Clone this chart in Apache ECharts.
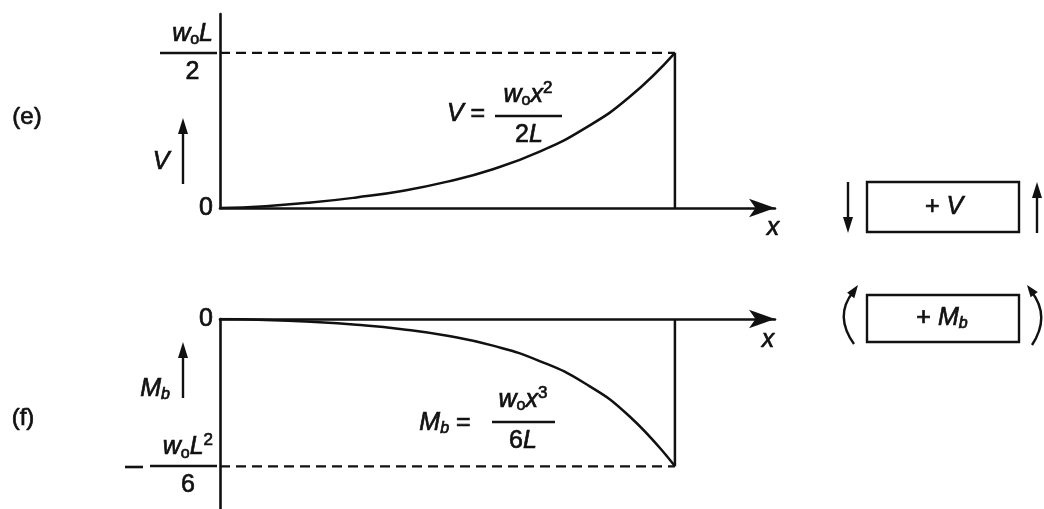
<!DOCTYPE html>
<html><head><meta charset="utf-8">
<script src="https://cdn.jsdelivr.net/npm/echarts@6/dist/echarts.min.js"></script>
<style>html,body{margin:0;padding:0;background:#fff}#c{width:1044px;height:509px}</style>
</head><body><div id="c"></div>
<script>
// ---- data (normalised: x/L, V/(w0L/2), Mb/(w0L^2/6)) ----
const xs      = [0, 0.1, 0.2, 0.3, 0.4, 0.5, 0.6, 0.7, 0.8, 0.9, 1];
const shearV  = [0, 0.012, 0.035, 0.068, 0.11, 0.17, 0.25, 0.36, 0.51, 0.715, 1];
const momentM = [0, -0.006, -0.019, -0.039, -0.069, -0.114, -0.181, -0.282, -0.433, -0.66, -1];
const xEnd = 1;
const shearTicks  = [0, 1];
const momentTicks = [0, -1];
const shearTickLabels  = ['{z|0}', '{i|w}{sub|o}{i|L}\n{u|2}'];
const momentTickLabels = ['{z|0}', '{i|w}{sub|o}{i|L}{sup|2}\n{u|6}'];

const FONT = '"Liberation Sans", Arial, sans-serif';
const INK = '#111111';
const FS = 25;
const SW = 0.7; // slight text stroke to match the heavy print

const richAxis = {
  z:   {fontSize: FS, fontFamily: FONT, color: INK, textBorderColor: INK, textBorderWidth: SW},
  u:   {fontSize: FS, fontFamily: FONT, color: INK, lineHeight: 38, align: 'center', textBorderColor: INK, textBorderWidth: SW},
  i:   {fontSize: FS, fontFamily: FONT, color: INK, fontStyle: 'italic', lineHeight: 38, align: 'center', textBorderColor: INK, textBorderWidth: SW},
  sub: {fontSize: 16, fontFamily: FONT, color: INK, lineHeight: 38, padding: [12, 0, 0, 0], align: 'center', textBorderColor: INK, textBorderWidth: SW},
  sup: {fontSize: 17, fontFamily: FONT, color: INK, lineHeight: 38, padding: [0, 0, 13, 0], align: 'center', textBorderColor: INK, textBorderWidth: SW}
};
const richG = {
  u:   {fontSize: FS, fontFamily: FONT, fill: INK, stroke: INK, lineWidth: SW},
  i:   {fontSize: FS, fontFamily: FONT, fill: INK, stroke: INK, lineWidth: SW, fontStyle: 'italic'},
  sub: {fontSize: 16, fontFamily: FONT, fill: INK, stroke: INK, lineWidth: SW, padding: [12, 0, 0, 0]},
  isub:{fontSize: 16, fontFamily: FONT, fill: INK, stroke: INK, lineWidth: SW, fontStyle: 'italic', padding: [12, 0, 0, 0]},
  sup: {fontSize: 17, fontFamily: FONT, fill: INK, stroke: INK, lineWidth: SW, padding: [0, 0, 13, 0]}
};

function T(x, y, text, extra) {
  return {type: 'text', x: x, y: y, z: 10, style: Object.assign({
    text: text, fontSize: FS, fontFamily: FONT, fill: INK, stroke: INK, lineWidth: SW,
    align: 'center', verticalAlign: 'middle', rich: richG}, extra || {})};
}
function L(x1, y1, x2, y2, w) {
  return {type: 'line', z: 10, shape: {x1: x1, y1: y1, x2: x2, y2: y2},
    style: {stroke: INK, lineWidth: w || 2.3}};
}
function P(pts) {
  return {type: 'polygon', z: 10, shape: {points: pts}, style: {fill: INK}};
}
function upArrow(x, yTip, yBot) {
  return [L(x, yBot, x, yTip + 8, 2.4), P([[x, yTip], [x - 5, yTip + 16], [x + 5, yTip + 16]])];
}
function downArrow(x, yTop, yTip) {
  return [L(x, yTop, x, yTip - 8, 2.4), P([[x, yTip], [x - 5, yTip - 16], [x + 5, yTip - 16]])];
}

const chart = echarts.init(document.getElementById('c'), null, {renderer: 'canvas'});

const xAxisCommon = {
  type: 'value', min: 0, max: 1.22,
  axisLine: {show: true, onZero: true, symbol: ['none', 'arrow'], symbolSize: [14, 26],
             lineStyle: {color: INK, width: 2.6}},
  axisTick: {show: false}, axisLabel: {show: false}, splitLine: {show: false}
};
function yAxisFor(grid, min, max, ticks, labels) {
  return {
    type: 'value', gridIndex: grid, min: min, max: max,
    axisLine: {show: true, onZero: false, lineStyle: {color: INK, width: 2.6}},
    axisTick: {show: false}, splitLine: {show: false},
    axisLabel: {
      show: true, customValues: ticks, margin: 7, showMinLabel: true, showMaxLabel: true,
      formatter: function (v) {
        const k = ticks.indexOf(v);
        return k >= 0 ? labels[k] : '';
      },
      rich: richAxis
    }
  };
}

const lineBase = {type: 'line', showSymbol: false, symbol: 'none', silent: true, animation: false};
const dashed = {color: INK, width: 2.2, type: [10, 6]};
const solid = {color: INK, width: 2.5};

const option = {
  backgroundColor: '#ffffff',
  animation: false,
  grid: [
    {left: 220, top: 14, width: 555, height: 194},
    {left: 220, top: 319, width: 555, height: 190}
  ],
  xAxis: [
    Object.assign({gridIndex: 0}, xAxisCommon),
    Object.assign({gridIndex: 1}, xAxisCommon)
  ],
  yAxis: [
    yAxisFor(0, 0, 1.25, shearTicks, shearTickLabels),
    yAxisFor(1, -1.29, 0, momentTicks, momentTickLabels)
  ],
  series: [
    Object.assign({}, lineBase, {xAxisIndex: 0, yAxisIndex: 0, smooth: 0.5,
      lineStyle: solid, data: xs.map((x, i) => [x, shearV[i]])}),
    Object.assign({}, lineBase, {xAxisIndex: 0, yAxisIndex: 0, lineStyle: dashed,
      data: [[xs[0], shearTicks[1]], [xEnd, shearTicks[1]]]}),
    Object.assign({}, lineBase, {xAxisIndex: 0, yAxisIndex: 0, lineStyle: solid,
      data: [[xEnd, shearTicks[0]], [xEnd, shearTicks[1]]]}),
    Object.assign({}, lineBase, {xAxisIndex: 1, yAxisIndex: 1, smooth: 0.5,
      lineStyle: solid, data: xs.map((x, i) => [x, momentM[i]])}),
    Object.assign({}, lineBase, {xAxisIndex: 1, yAxisIndex: 1, lineStyle: dashed,
      data: [[xs[0], momentTicks[1]], [xEnd, momentTicks[1]]]}),
    Object.assign({}, lineBase, {xAxisIndex: 1, yAxisIndex: 1, lineStyle: solid,
      data: [[xEnd, momentTicks[0]], [xEnd, momentTicks[1]]]})
  ],
  graphic: [].concat(
    // panel tags
    [T(27, 117, '(e)', {fontSize: 24}), T(23, 418, '(f)', {fontSize: 24})],
    // fraction bars of the axis labels and minus sign
    [L(160, 53, 217, 53, 2.4), L(150, 466, 217, 466, 2.4), L(125, 467, 143, 467, 2.6)],
    // V arrow label
    [T(161, 162, '{i|V}')], upArrow(183, 118, 184),
    // Mb arrow label
    [T(155, 389, '{i|M}{isub|b}')], upArrow(183, 342, 398),
    // x labels
    [T(773, 228, '{i|x}'), T(768, 340, '{i|x}')],
    // V formula
    [T(466, 114, '{i|V} {u|=}'), T(528, 95, '{i|w}{sub|o}{i|x}{sup|2}'), L(495, 116, 562, 116, 2.4), T(529, 135, '{u|2}{i|L}')],
    // Mb formula
    [T(445, 423, '{i|M}{isub|b} {u|=}'), T(523, 400, '{i|w}{sub|o}{i|x}{sup|3}'), L(492, 422, 555, 422, 2.4), T(523, 441, '{u|6}{i|L}')],
    // sign convention boxes
    [{type: 'rect', z: 10, shape: {x: 867, y: 182, width: 152, height: 50}, style: {fill: 'none', stroke: INK, lineWidth: 2.4}},
     T(944, 207, '{u|+} {i|V}'),
     {type: 'rect', z: 10, shape: {x: 867, y: 295, width: 152, height: 47}, style: {fill: 'none', stroke: INK, lineWidth: 2.4}},
     T(942, 318, '{u|+} {i|M}{isub|b}')],
    downArrow(848, 182, 233), upArrow(1037, 182, 233),
    [{type: 'bezierCurve', z: 10, shape: {x1: 853, y1: 292, cpx1: 834, cpy1: 316, x2: 854, y2: 344},
      style: {stroke: INK, lineWidth: 2.4, fill: 'none'}},
     P([[858, 285], [854.3, 298.2], [847.1, 292.8]]),
     {type: 'bezierCurve', z: 10, shape: {x1: 1031, y1: 291, cpx1: 1051, cpy1: 316, x2: 1032, y2: 345},
      style: {stroke: INK, lineWidth: 2.4, fill: 'none'}},
     P([[1027, 285], [1037.8, 291.9], [1030.6, 297.3]])]
  )
};
chart.setOption(option);
</script>
</body></html>
